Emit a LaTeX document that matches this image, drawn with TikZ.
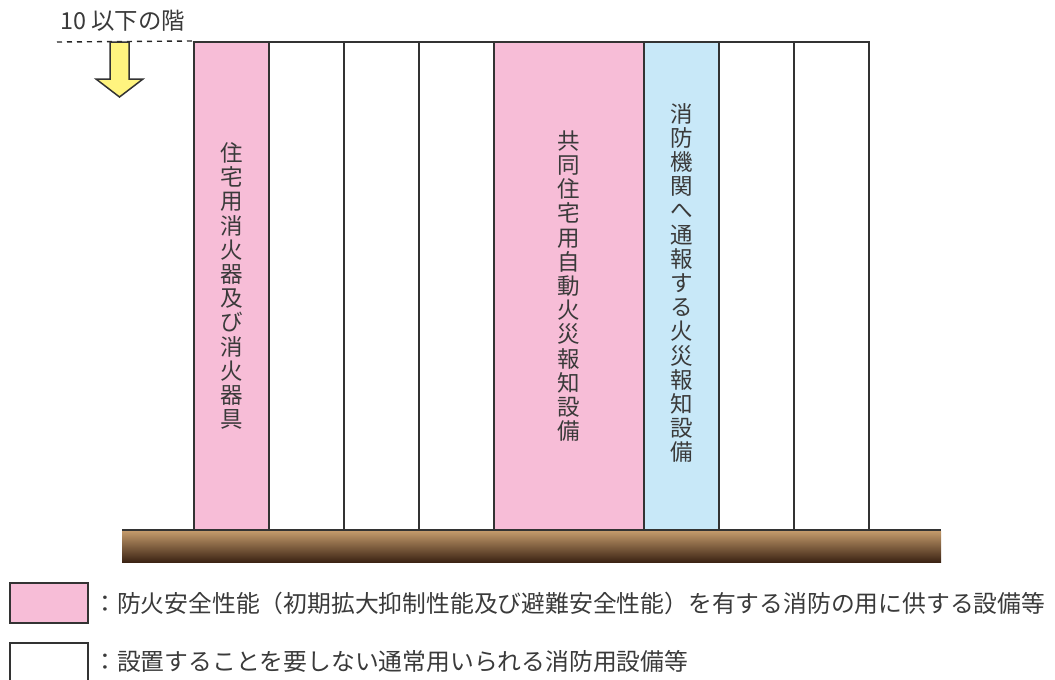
\documentclass[tikz,border=0pt]{standalone}
\usepackage{fontspec}
\newfontfamily\jp{Noto Sans CJK JP}
\definecolor{pinkfill}{HTML}{F7BDD7}
\definecolor{bluefill}{HTML}{C8E8F8}
\definecolor{linegray}{HTML}{333333}
\definecolor{txtgray}{HTML}{3A3A3A}
\definecolor{arrowyellow}{HTML}{FFF47F}
\definecolor{groundtop}{HTML}{C39A6B}
\definecolor{groundbot}{HTML}{3C2414}
\tikzset{
  col/.style={draw=linegray, line width=2pt, minimum width=75pt, minimum height=488pt, inner sep=0pt, text=txtgray, align=center, font=\jp\fontsize{22.5}{24.2}\selectfont},
  legbox/.style={draw=linegray, line width=2pt, minimum width=78pt, minimum height=40pt, inner sep=0pt},
  legtext/.style={anchor=west, inner sep=0pt, text=txtgray, font=\jp\fontsize{23.8}{24}\selectfont},
}
\begin{document}
\begin{tikzpicture}[x=1pt,y=-1pt]
\useasboundingbox (0,0) rectangle (1055,680);
% columns
\node[col, fill=pinkfill] (c1) at (231.5,286) {住\\宅\\用\\消\\火\\器\\及\\び\\消\\火\\器\\具};
\node[col] (c2) at (306.5,286) {};
\node[col] (c3) at (381.5,286) {};
\node[col] (c4) at (456.5,286) {};
\node[col, fill=pinkfill, minimum width=150pt] (c5) at (569,286) {共\\同\\住\\宅\\用\\自\\動\\火\\災\\報\\知\\設\\備};
\node[col, fill=bluefill] (c6) at (681.5,286) {};
\node[text=txtgray, align=center, inner sep=0pt, font=\jp\fontsize{22.5}{24.2}\selectfont] (t6) at (681.5,283) {消\\防\\機\\関\\へ\\通\\報\\す\\る\\火\\災\\報\\知\\設\\備};
\node[col] (c7) at (756.5,286) {};
\node[col] (c8) at (831.5,286) {};
% ground
\shade[top color=groundtop, bottom color=groundbot] (122,531) rectangle (941,562);
\draw[linegray, line width=2pt] (122,530) -- (941,530);
% level label
\node[anchor=west, inner sep=0pt, text=txtgray, font=\jp\fontsize{23.4}{24}\selectfont] (lvl) at (60,21) {10 以下の階};
\coordinate (d0) at (57,42);
\draw[dashed, dash pattern=on 5pt off 5pt, line width=1.4pt, black!85] (d0) -- (c1.north west);
% arrow
\draw[fill=arrowyellow, draw=linegray, line width=1.5pt, line join=miter]
  (110,42) -- (129,42) -- (129,79) -- (143,79) -- (119.5,97) -- (96,79) -- (110,79) -- cycle;
% legend
\node[legbox, fill=pinkfill] (lb1) at (49,603) {};
\node[legtext] (lt1) at (93,603) {：防火安全性能（初期拡大抑制性能及び避難安全性能）を有する消防の用に供する設備等};
\node[legbox] (lb2) at (49,663) {};
\node[legtext] (lt2) at (93,661) {：設置することを要しない通常用いられる消防用設備等};
\end{tikzpicture}
\end{document}
